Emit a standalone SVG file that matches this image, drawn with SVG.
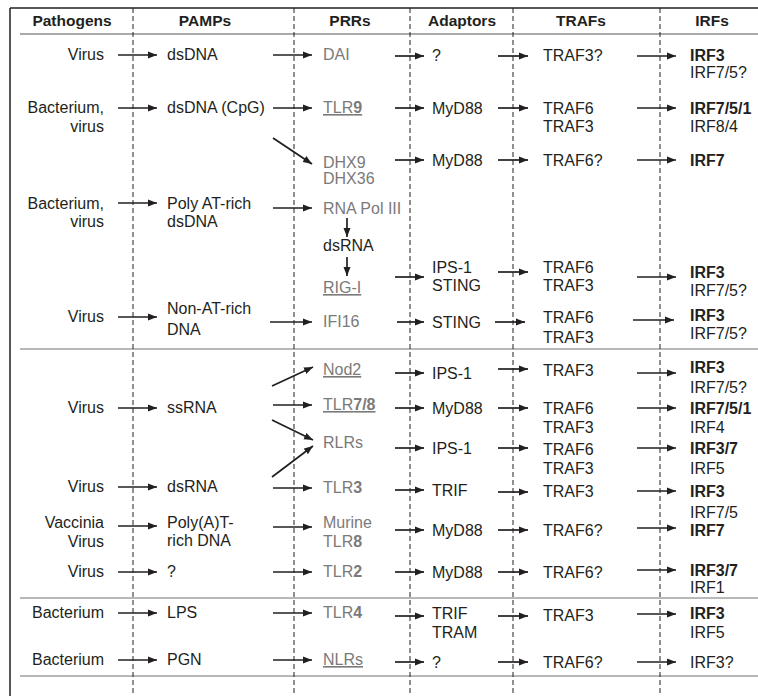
<svg xmlns="http://www.w3.org/2000/svg" width="758" height="696" viewBox="0 0 758 696">
<defs>
<marker id="ah" markerUnits="userSpaceOnUse" markerWidth="10" markerHeight="8" refX="9" refY="4" orient="auto">
<path d="M0,0.5 L9,4 L0,7.5 z" fill="#231f20"/>
</marker>
<style>
text{font-family:"Liberation Sans",Arial,sans-serif;font-size:16px;fill:#231f20}
.h{font-weight:bold;font-size:15.5px;text-anchor:middle}
.e{text-anchor:end}
.g{fill:#7a7a7a}
.u{text-decoration:underline}
.b{font-weight:bold}
.dash{stroke:#231f20;stroke-width:1;stroke-dasharray:5,3;fill:none}
.sep{stroke:#a0a0a0;stroke-width:1.5}
.conn line{stroke:#231f20;stroke-width:1.7;marker-end:url(#ah)}
</style>
</defs>
<rect width="758" height="696" fill="#fff"/>
<g id="frame">
<line x1="10" y1="8" x2="758" y2="8" stroke="#231f20" stroke-width="1.5"/>
<line x1="10" y1="8" x2="10" y2="696" stroke="#231f20" stroke-width="1.5"/>
<line x1="20" y1="34" x2="758" y2="34" stroke="#555" stroke-width="1.2"/>
<line class="sep" x1="20" y1="349" x2="758" y2="349"/>
<line class="sep" x1="20" y1="598" x2="758" y2="598"/>
<line class="sep" x1="20" y1="676" x2="758" y2="676"/>
<line class="dash" x1="133" y1="8" x2="133" y2="696"/>
<line class="dash" x1="294" y1="8" x2="294" y2="696"/>
<line class="dash" x1="410" y1="8" x2="410" y2="696"/>
<line class="dash" x1="513" y1="8" x2="513" y2="696"/>
<line class="dash" x1="660" y1="8" x2="660" y2="696"/>
</g>
<g id="headers">
<text class="h" x="72" y="26">Pathogens</text>
<text class="h" x="205" y="26">PAMPs</text>
<text class="h" x="350" y="26">PRRs</text>
<text class="h" x="462" y="26">Adaptors</text>
<text class="h" x="581" y="26">TRAFs</text>
<text class="h" x="712" y="26">IRFs</text>
</g>
<g id="pathogens">
<g id="pa1"><text class="e" x="104" y="60">Virus</text></g>
<g id="pa2"><text class="e" x="104" y="113">Bacterium,</text><text class="e" x="104" y="132">virus</text></g>
<g id="pa3"><text class="e" x="104" y="209">Bacterium,</text><text class="e" x="104" y="227">virus</text></g>
<g id="pa4"><text class="e" x="104" y="322">Virus</text></g>
<g id="pa5"><text class="e" x="104" y="413">Virus</text></g>
<g id="pa6"><text class="e" x="104" y="492">Virus</text></g>
<g id="pa7"><text class="e" x="104" y="528">Vaccinia</text><text class="e" x="104" y="547">Virus</text></g>
<g id="pa8"><text class="e" x="104" y="577">Virus</text></g>
<g id="pa9"><text class="e" x="104" y="618">Bacterium</text></g>
<g id="pa10"><text class="e" x="104" y="665">Bacterium</text></g>
</g>
<g id="pamps">
<g id="pm1"><text x="167" y="60">dsDNA</text></g>
<g id="pm2"><text x="167" y="113">dsDNA (CpG)</text></g>
<g id="pm3"><text x="167" y="209">Poly AT-rich</text><text x="167" y="227">dsDNA</text></g>
<g id="pm4"><text x="167" y="314">Non-AT-rich</text><text x="167" y="335">DNA</text></g>
<g id="pm5"><text x="167" y="413">ssRNA</text></g>
<g id="pm6"><text x="167" y="492">dsRNA</text></g>
<g id="pm7"><text x="167" y="528">Poly(A)T-</text><text x="167" y="546">rich DNA</text></g>
<g id="pm8"><text x="167" y="577">?</text></g>
<g id="pm9"><text x="167" y="618">LPS</text></g>
<g id="pm10"><text x="167" y="665">PGN</text></g>
</g>
<g id="prrs">
<g id="pr1"><text class="g" x="323" y="60">DAI</text></g>
<g id="pr2"><text class="g u" x="323" y="113">TLR<tspan class="b">9</tspan></text></g>
<g id="pr3"><text class="g" x="323" y="168">DHX9</text><text class="g" x="323" y="184">DHX36</text></g>
<g id="pr4"><text class="g" x="323" y="214">RNA Pol III</text></g>
<g id="pr5"><text x="323" y="251">dsRNA</text></g>
<g id="pr6"><text class="g u" x="323" y="293">RIG-I</text></g>
<g id="pr7"><text class="g" x="323" y="327">IFI16</text></g>
<g id="pr8"><text class="g u" x="323" y="375">Nod2</text></g>
<g id="pr9"><text class="g u" x="323" y="410">TLR<tspan class="b">7/8</tspan></text></g>
<g id="pr10"><text class="g" x="323" y="448">RLRs</text></g>
<g id="pr11"><text class="g" x="323" y="493">TLR<tspan class="b">3</tspan></text></g>
<g id="pr12"><text class="g" x="323" y="528">Murine</text><text class="g" x="323" y="547">TLR<tspan class="b">8</tspan></text></g>
<g id="pr13"><text class="g" x="323" y="577">TLR<tspan class="b">2</tspan></text></g>
<g id="pr14"><text class="g" x="323" y="618">TLR<tspan class="b">4</tspan></text></g>
<g id="pr15"><text class="g u" x="323" y="665">NLRs</text></g>
</g>
<g id="adaptors">
<g id="ad1"><text x="432" y="61">?</text></g>
<g id="ad2"><text x="432" y="114">MyD88</text></g>
<g id="ad3"><text x="432" y="166">MyD88</text></g>
<g id="ad4"><text x="432" y="273">IPS-1</text><text x="432" y="291">STING</text></g>
<g id="ad5"><text x="432" y="328">STING</text></g>
<g id="ad6"><text x="432" y="379">IPS-1</text></g>
<g id="ad7"><text x="432" y="414">MyD88</text></g>
<g id="ad8"><text x="432" y="454">IPS-1</text></g>
<g id="ad9"><text x="432" y="496">TRIF</text></g>
<g id="ad10"><text x="432" y="536">MyD88</text></g>
<g id="ad11"><text x="432" y="578">MyD88</text></g>
<g id="ad12"><text x="432" y="619">TRIF</text><text x="432" y="638">TRAM</text></g>
<g id="ad13"><text x="432" y="668">?</text></g>
</g>
<g id="trafs">
<g id="tr1"><text x="543" y="61">TRAF3?</text></g>
<g id="tr2"><text x="543" y="114">TRAF6</text><text x="543" y="132">TRAF3</text></g>
<g id="tr3"><text x="543" y="166">TRAF6?</text></g>
<g id="tr4"><text x="543" y="273">TRAF6</text><text x="543" y="291">TRAF3</text></g>
<g id="tr5"><text x="543" y="323">TRAF6</text><text x="543" y="343">TRAF3</text></g>
<g id="tr6"><text x="543" y="376">TRAF3</text></g>
<g id="tr7"><text x="543" y="414">TRAF6</text><text x="543" y="433">TRAF3</text></g>
<g id="tr8"><text x="543" y="455">TRAF6</text><text x="543" y="474">TRAF3</text></g>
<g id="tr9"><text x="543" y="497">TRAF3</text></g>
<g id="tr10"><text x="543" y="536">TRAF6?</text></g>
<g id="tr11"><text x="543" y="578">TRAF6?</text></g>
<g id="tr12"><text x="543" y="621">TRAF3</text></g>
<g id="tr13"><text x="543" y="668">TRAF6?</text></g>
</g>
<g id="irfs">
<g id="ir1"><text class="b" x="690" y="61">IRF3</text><text x="690" y="78">IRF7/5?</text></g>
<g id="ir2"><text class="b" x="690" y="114">IRF7/5/1</text><text x="690" y="132">IRF8/4</text></g>
<g id="ir3"><text class="b" x="690" y="166">IRF7</text></g>
<g id="ir4"><text class="b" x="690" y="278">IRF3</text><text x="690" y="296">IRF7/5?</text></g>
<g id="ir5"><text class="b" x="690" y="321">IRF3</text><text x="690" y="339">IRF7/5?</text></g>
<g id="ir6"><text class="b" x="690" y="373">IRF3</text><text x="690" y="393">IRF7/5?</text></g>
<g id="ir7"><text class="b" x="690" y="414">IRF7/5/1</text><text x="690" y="433">IRF4</text></g>
<g id="ir8"><text class="b" x="690" y="454">IRF3/7</text><text x="690" y="474">IRF5</text></g>
<g id="ir9"><text class="b" x="690" y="497">IRF3</text><text x="690" y="518">IRF7/5</text></g>
<g id="ir10"><text class="b" x="690" y="536">IRF7</text></g>
<g id="ir11"><text class="b" x="690" y="576">IRF3/7</text><text x="690" y="593">IRF1</text></g>
<g id="ir12"><text class="b" x="690" y="619">IRF3</text><text x="690" y="638">IRF5</text></g>
<g id="ir13"><text x="690" y="668">IRF3?</text></g>
</g>
<g id="connectors" class="conn">
<line x1="118" y1="55" x2="157" y2="55"/>
<line x1="118" y1="108" x2="157" y2="108"/>
<line x1="118" y1="203" x2="157" y2="203"/>
<line x1="118" y1="317" x2="157" y2="317"/>
<line x1="118" y1="408" x2="157" y2="408"/>
<line x1="118" y1="487" x2="157" y2="487"/>
<line x1="118" y1="526" x2="157" y2="526"/>
<line x1="118" y1="572" x2="157" y2="572"/>
<line x1="118" y1="613" x2="157" y2="613"/>
<line x1="118" y1="660" x2="157" y2="660"/>
<line x1="273" y1="55" x2="312" y2="55"/>
<line x1="273" y1="108" x2="312" y2="108"/>
<line x1="273" y1="138" x2="312" y2="164"/>
<line x1="273" y1="208" x2="312" y2="208"/>
<line x1="347" y1="218" x2="347" y2="237"/>
<line x1="347" y1="257" x2="347" y2="276"/>
<line x1="270" y1="322" x2="312" y2="322"/>
<line x1="272" y1="386" x2="313" y2="367"/>
<line x1="273" y1="405" x2="312" y2="405"/>
<line x1="272" y1="420" x2="313" y2="440"/>
<line x1="272" y1="477" x2="313" y2="446"/>
<line x1="273" y1="488" x2="312" y2="488"/>
<line x1="273" y1="527" x2="312" y2="527"/>
<line x1="273" y1="572" x2="312" y2="572"/>
<line x1="273" y1="613" x2="312" y2="613"/>
<line x1="273" y1="660" x2="312" y2="660"/>
<line x1="395" y1="56" x2="424" y2="56"/>
<line x1="395" y1="108" x2="424" y2="108"/>
<line x1="395" y1="160" x2="424" y2="160"/>
<line x1="395" y1="277" x2="424" y2="277"/>
<line x1="397" y1="322" x2="424" y2="322"/>
<line x1="395" y1="373" x2="424" y2="373"/>
<line x1="395" y1="408" x2="424" y2="408"/>
<line x1="395" y1="448" x2="424" y2="448"/>
<line x1="395" y1="490" x2="424" y2="490"/>
<line x1="395" y1="530" x2="424" y2="530"/>
<line x1="395" y1="572" x2="424" y2="572"/>
<line x1="395" y1="616" x2="424" y2="616"/>
<line x1="395" y1="662" x2="424" y2="662"/>
<line x1="498" y1="56" x2="528" y2="56"/>
<line x1="498" y1="108" x2="528" y2="108"/>
<line x1="498" y1="160" x2="528" y2="160"/>
<line x1="498" y1="272" x2="528" y2="272"/>
<line x1="495" y1="322" x2="525" y2="322"/>
<line x1="498" y1="369" x2="528" y2="369"/>
<line x1="498" y1="408" x2="528" y2="408"/>
<line x1="498" y1="448" x2="528" y2="448"/>
<line x1="498" y1="492" x2="528" y2="492"/>
<line x1="498" y1="530" x2="528" y2="530"/>
<line x1="498" y1="572" x2="528" y2="572"/>
<line x1="498" y1="616" x2="528" y2="616"/>
<line x1="498" y1="662" x2="528" y2="662"/>
<line x1="637" y1="56" x2="676" y2="56"/>
<line x1="637" y1="108" x2="676" y2="108"/>
<line x1="637" y1="160" x2="676" y2="160"/>
<line x1="637" y1="277" x2="676" y2="277"/>
<line x1="633" y1="320" x2="674" y2="320"/>
<line x1="637" y1="373" x2="676" y2="373"/>
<line x1="637" y1="408" x2="676" y2="408"/>
<line x1="637" y1="448" x2="676" y2="448"/>
<line x1="637" y1="491" x2="676" y2="491"/>
<line x1="637" y1="528" x2="676" y2="528"/>
<line x1="637" y1="570" x2="676" y2="570"/>
<line x1="637" y1="614" x2="676" y2="614"/>
<line x1="637" y1="662" x2="676" y2="662"/>
</g>
</svg>
